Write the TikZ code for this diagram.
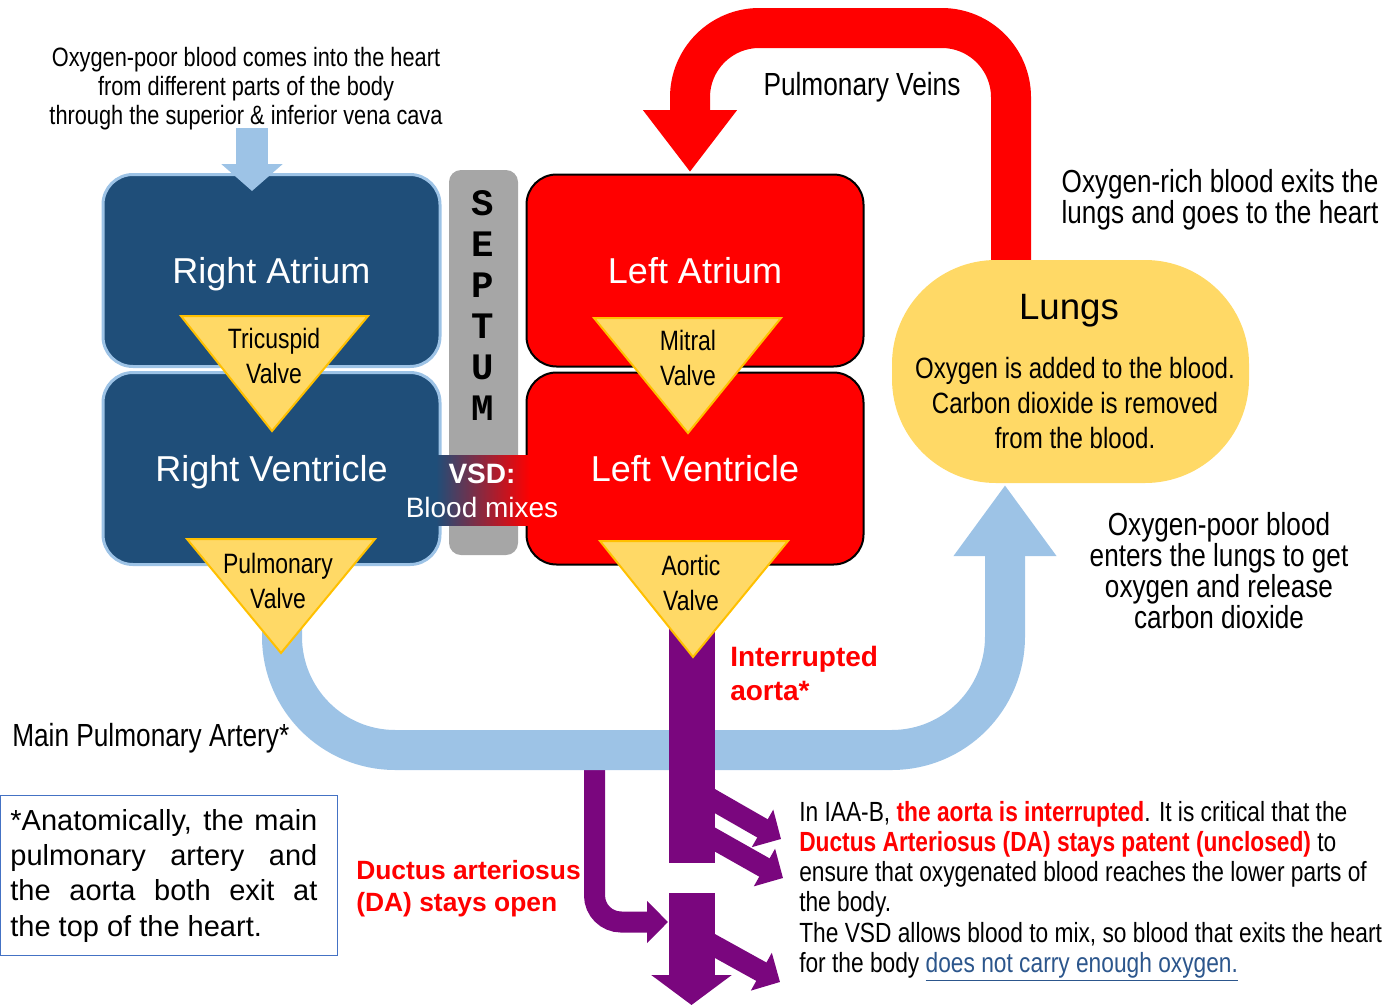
\documentclass[tikz,border=0pt]{standalone}
\usepackage{fontspec}
\setmainfont{Liberation Sans}
\newfontfamily\narrow[FakeStretch=0.82]{Liberation Sans}
\newfontfamily\monofont{Liberation Mono}
\usetikzlibrary{arrows.meta}

\definecolor{chamberblue}{RGB}{31,78,121}
\definecolor{rimblue}{RGB}{157,195,230}
\definecolor{pipeblue}{RGB}{157,195,230}
\definecolor{valvefill}{RGB}{255,217,102}
\definecolor{valverim}{RGB}{255,192,0}
\definecolor{septgray}{RGB}{166,166,166}
\definecolor{aortapurple}{RGB}{122,6,126}
\definecolor{linkblue}{RGB}{44,86,140}
\definecolor{noterim}{RGB}{68,114,196}
\newcommand{\fsz}[2]{\fontsize{#1}{#2}\selectfont}

\tikzset{
  rchamber/.style={draw=rimblue, line width=2.25pt, fill=chamberblue, rounded corners=22.5pt,
    minimum width=252.75pt, minimum height=144pt, text=white, text height=19.5pt, text depth=0pt,
    font={\fsz{27pt}{32pt}}},
  lchamber/.style={rchamber, draw=black, line width=1.5pt, fill=red},
  septum/.style={fill=septgray, rounded corners=9pt, minimum width=51.75pt, minimum height=288.75pt},
  valve/.style={draw=valverim, line width=1.5pt, fill=valvefill},
  valvetext/.style={align=center, font={\narrow\fsz{21pt}{26.25pt}}, inner sep=0pt},
  lungsbox/.style={fill=valvefill, rounded corners=78pt, minimum width=267.75pt, minimum height=167.25pt},
  bluepipe/.style={draw=pipeblue, line width=30pt},
  redpipe/.style={draw=red, line width=30pt},
  aorta/.style={draw=aortapurple, line width=34.5pt},
  branch/.style={draw=aortapurple, line width=15.75pt, -{Triangle[width=31.5pt,length=16pt]}},
  note/.style={align=center, inner sep=0pt, font={\narrow\fsz{23.9pt}{23.25pt}}},
  redbold/.style={text=red, align=left, inner sep=0pt, font={\bfseries\fsz{21pt}{25.5pt}}},
}

\begin{document}
\begin{tikzpicture}[x=0.75pt, y=-0.75pt]
\useasboundingbox (0,0) rectangle (1391,1007);

% ends of the vessels
\coordinate (vcTop) at (252,128);
\coordinate (vcTip) at (252,191);
\coordinate (pvTop) at (282,600);
\coordinate (paMid) at (640,750);
\coordinate (lungTip) at (1005,485);
\coordinate (rpStart) at (1011,262);
\coordinate (rpMid) at (850,28);
\coordinate (laTip) at (690,172);
\coordinate (daTop) at (594.5,752);
\coordinate (daTip) at (668,922);
\coordinate (aoTop) at (691.5,600);
\coordinate (aoCut) at (691.5,863);
\coordinate (aoResume) at (691.5,893);
\coordinate (aoTip) at (691.5,1005);
\coordinate (brA) at (706,796);
\coordinate (brAtip) at (781,839);
\coordinate (brB) at (706,834.5);
\coordinate (brBtip) at (783,878);
\coordinate (brC) at (705,940.5);
\coordinate (brCtip) at (780,982);

% vessels
\draw[aortapurple, line width=15.75pt, rounded corners=20pt, -{Triangle[width=30.75pt,length=15.75pt]}] (daTop) |- (daTip);
\draw[bluepipe, rounded corners=85pt, -{Triangle[width=73.5pt,length=53.25pt]}] (pvTop) |- (paMid) -| (lungTip);
\draw[redpipe, rounded corners=52pt, -{Triangle[width=67.5pt,length=46.5pt]}] (rpStart) |- (rpMid) -| (laTip);
\draw[aorta] (aoTop) -- (aoCut);
\draw[aorta, -{Triangle[width=59.25pt,length=22.5pt]}] (aoResume) -- (aoTip);
\draw[branch] (brA) -- (brAtip);
\draw[branch] (brB) -- (brBtip);
\draw[branch] (brC) -- (brCtip);

% heart
\node[rchamber] (ra) at (271.5,270.5) {Right Atrium};
\node[rchamber] (rv) at (271.5,468.5) {Right Ventricle};
\node[lchamber] (la) at (695,270.5) {Left Atrium};
\node[lchamber] (lv) at (695,468.5) {Left Ventricle};
\node[septum] (sep) at (483.5,362.5) {};
\node[inner sep=0pt, align=center, font={\monofont\bfseries\fsz{28pt}{30.75pt}}] (septxt) at (483,305.5) {S\\E\\P\\T\\U\\M};
\shade[left color=chamberblue, right color=red] (436,455) rectangle (530,525);
\node[inner sep=0pt, text=white, font={\bfseries\fsz{21pt}{24pt}}] (vsd) at (482,474) {VSD:};
\node[inner sep=0pt, text=white, font={\fsz{21pt}{24pt}}] (mix) at (482,507) {Blood mixes};

% valves
\filldraw[valve] (181,316) -- (368,316) -- (272,431) -- cycle;
\filldraw[valve] (594,318) -- (781,318) -- (688,433) -- cycle;
\filldraw[valve] (187,539) -- (375,539) -- (281,653) -- cycle;
\filldraw[valve] (600,541) -- (788,541) -- (693,657) -- cycle;
\node[valvetext] (tri) at (274,355.5) {Tricuspid\\Valve};
\node[valvetext] (mit) at (688,357.5) {Mitral\\Valve};
\node[valvetext] (pul) at (278,580.5) {Pulmonary\\Valve};
\node[valvetext] (aor) at (691,583) {Aortic\\Valve};

% lungs
\node[lungsbox] (lungs) at (1070.5,371.5) {};
\node[inner sep=0pt, font={\fsz{27.5pt}{30pt}}] (lungtitle) at (1069,311) {Lungs};
\node[note, font={\narrow\fsz{22pt}{26.25pt}}] (lungtxt) at (1075,403) {Oxygen is added to the blood.\\Carbon dioxide is removed\\from the blood.};

\draw[pipeblue, line width=24pt, -{Triangle[width=45pt,length=20.25pt]}] (vcTop) -- (vcTip);

% labels
\node[note, font={\narrow\fsz{19.9pt}{21.75pt}}] (venatxt) at (246,89) {Oxygen-poor blood comes into the heart\\from different parts of the body\\through the superior \& inferior vena cava};
\node[note, font={\narrow\fsz{24pt}{28pt}}] (veintxt) at (862,87) {Pulmonary Veins};
\node[note] (richtxt) at (1220,199.5) {Oxygen-rich blood exits the\\lungs and goes to the heart};
\node[note] (poortxt) at (1219,571) {Oxygen-poor blood\\enters the lungs to get\\oxygen and release\\carbon dioxide};
\node[note, anchor=west, font={\narrow\fsz{24pt}{28pt}}] (mpatxt) at (12,738) {Main Pulmonary Artery*};
\node[redbold, anchor=west] (iatxt) at (730,673) {Interrupted\\aorta*};
\node[redbold, anchor=west, font={\bfseries\fsz{19.8pt}{24pt}}] (datxt) at (356,889) {Ductus arteriosus\\(DA) stays open};
\node[draw=noterim, line width=1.1pt, anchor=north west, minimum width=252.75pt, minimum height=120pt] (foot) at (0,795) {};
\node[text width=230.25pt, inner sep=0pt, align=justify, font={\fsz{21.75pt}{26.6pt}}] (foottxt) at ([xshift=-4pt]foot.center)
  {*Anatomically, the main\linebreak pulmonary artery and\linebreak the aorta both exit at\linebreak the top of the heart.};
\node[anchor=west, align=left, inner sep=0pt, font={\narrow\fsz{20.8pt}{22.65pt}}] (iaatxt) at (799,891)
  {In IAA-B, \textcolor{red}{\bfseries the aorta is interrupted}. It is critical that the\\
   \textcolor{red}{\bfseries Ductus Arteriosus (DA) stays patent (unclosed)} to\\
   ensure that oxygenated blood reaches the lower parts of\\
   the body.\\
   The VSD allows blood to mix, so blood that exits the heart\\
   for the body \textcolor{linkblue}{\underline{does not carry enough oxygen.}}};
\end{tikzpicture}
\end{document}
